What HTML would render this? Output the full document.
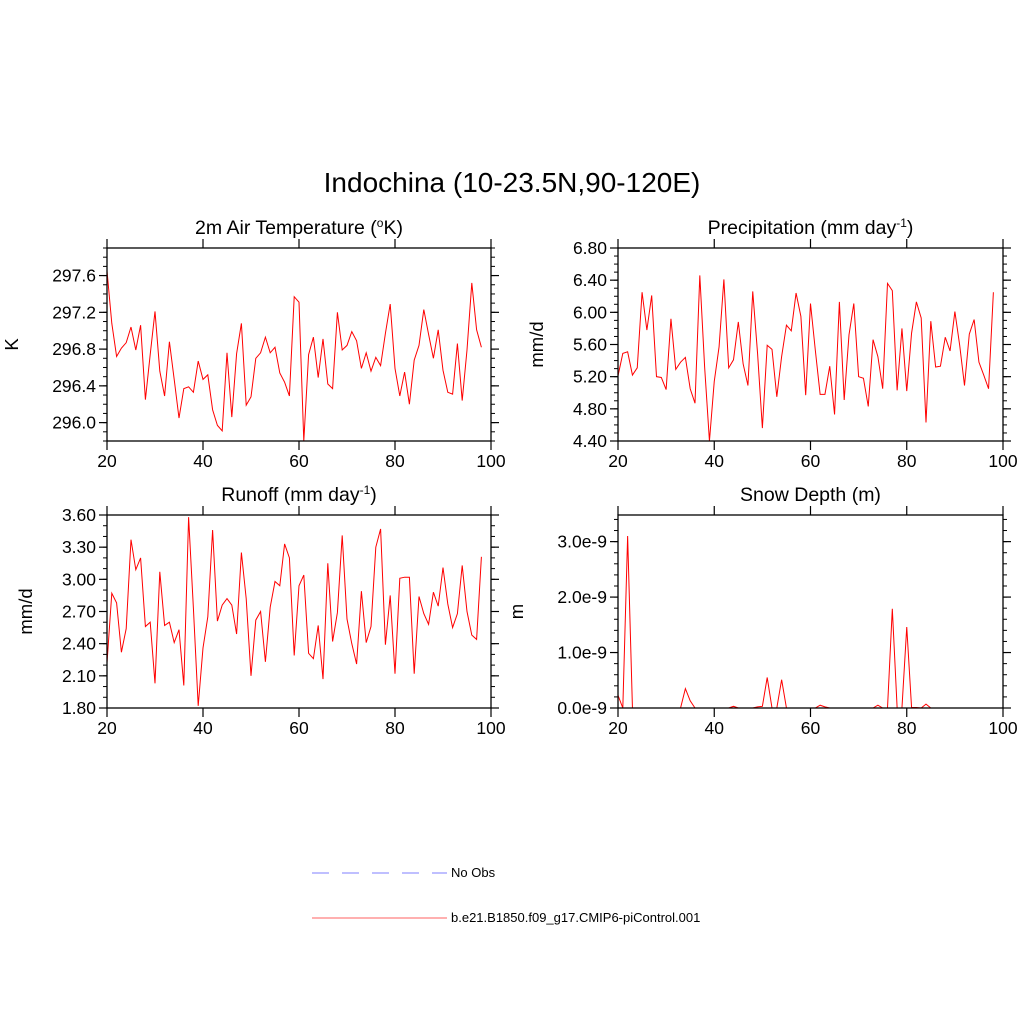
<!DOCTYPE html>
<html><head><meta charset="utf-8"><style>
body{margin:0;background:#fff}
svg{display:block;font-family:"Liberation Sans",sans-serif}
</style></head><body>
<svg id="chart" width="1024" height="1024" viewBox="0 0 1024 1024">
<rect width="1024" height="1024" fill="#fff"/>
<text x="512" y="192" font-size="28" text-anchor="middle">Indochina (10-23.5N,90-120E)</text>
<g>
<line x1="312" y1="873" x2="447" y2="873" stroke="#9999ff" stroke-width="1.2" stroke-dasharray="17,13"/>
<text x="451" y="877" font-size="13">No Obs</text>
<line x1="312" y1="918" x2="447" y2="918" stroke="#ff8080" stroke-width="1.2"/>
<text x="451" y="922" font-size="13">b.e21.B1850.f09_g17.CMIP6-piControl.001</text>
</g>
</svg>
<script>
const years = []; for (let y = 20; y <= 98; y++) years.push(y);
const tempValues = [297.65,297.08,296.72,296.81,296.87,297.04,296.79,297.06,296.25,296.74,297.21,296.56,296.29,296.88,296.47,296.05,296.37,296.39,296.33,296.67,296.47,296.52,296.14,295.97,295.91,296.76,296.06,296.75,297.08,296.19,296.28,296.70,296.76,296.93,296.76,296.82,296.54,296.44,296.29,297.37,297.31,295.80,296.74,296.93,296.49,296.91,296.42,296.37,297.20,296.79,296.84,296.99,296.89,296.59,296.76,296.56,296.71,296.62,296.97,297.29,296.59,296.29,296.55,296.20,296.68,296.84,297.23,296.96,296.70,297.01,296.57,296.33,296.31,296.86,296.24,296.79,297.52,297.01,296.82];
const precipValues = [5.21,5.49,5.51,5.22,5.31,6.25,5.78,6.21,5.20,5.19,5.04,5.92,5.29,5.38,5.44,5.05,4.87,6.46,5.32,4.40,5.14,5.57,6.41,5.31,5.41,5.88,5.36,5.09,6.26,5.49,4.56,5.59,5.54,4.95,5.45,5.84,5.77,6.24,5.95,4.97,6.11,5.53,4.98,4.98,5.33,4.73,6.13,4.91,5.72,6.11,5.20,5.18,4.83,5.66,5.45,5.05,6.36,6.27,5.03,5.80,5.02,5.74,6.13,5.93,4.63,5.89,5.32,5.33,5.69,5.52,6.01,5.59,5.09,5.73,5.91,5.38,5.22,5.05,6.25];
const runoffValues = [2.22,2.87,2.78,2.32,2.54,3.37,3.09,3.20,2.56,2.60,2.03,3.07,2.57,2.60,2.41,2.53,2.01,3.58,2.73,1.82,2.36,2.65,3.46,2.61,2.76,2.82,2.76,2.49,3.25,2.82,2.10,2.62,2.70,2.23,2.74,2.98,2.94,3.33,3.20,2.29,2.94,3.04,2.31,2.26,2.57,2.07,3.15,2.42,2.69,3.41,2.63,2.40,2.21,2.89,2.41,2.56,3.30,3.47,2.39,2.85,2.12,3.01,3.02,3.02,2.12,2.84,2.68,2.58,2.88,2.75,3.11,2.77,2.55,2.68,3.13,2.70,2.48,2.44,3.21];
const snowValues = [0.23,0,3.10,0,0,0,0,0,0,0,0,0,0,0,0.35,0.13,0,0,0,0,0,0,0,0,0.03,0,0,0,0,0.02,0.03,0.55,0,0,0.51,0,0,0,0,0,0,0,0.05,0.02,0,0,0,0,0,0,0,0,0,0,0.05,0,0,1.79,0,0,1.46,0.01,0.01,0,0.07,0,0,0,0,0,0,0,0,0,0,0,0,0,0];
const xTicks = [20,40,60,80,100];
const tempTicks = [296.0,296.4,296.8,297.2,297.6];
const precipTicks = [4.40,4.80,5.20,5.60,6.00,6.40,6.80];
const runoffTicks = [1.80,2.10,2.40,2.70,3.00,3.30,3.60];
const snowTicks = [0,1,2,3];

const NS = "http://www.w3.org/2000/svg";
const svg = document.getElementById('chart');
function mk(tag, attrs, parent) {
  const e = document.createElementNS(NS, tag);
  for (const k in attrs) e.setAttribute(k, attrs[k]);
  (parent || svg).appendChild(e);
  return e;
}
function panel(cfg) {
  const g = mk('g', {});
  
  
  const {x0, x1, y0, y1, vmin, vmax} = cfg;
  const sx = v => x0 + (v - 20) / 80 * (x1 - x0);
  const sy = v => y1 - (v - vmin) / (vmax - vmin) * (y1 - y0);
  for (let v = cfg.minorStart; v <= vmax + 1e-9; v += cfg.minorStep) {
    const y = sy(v);
    mk('line', {x1: x0 - 4, y1: y, x2: x0, y2: y, stroke: '#000', 'stroke-width': 1}, g);
    mk('line', {x1: x1, y1: y, x2: x1 + 4, y2: y, stroke: '#000', 'stroke-width': 1}, g);
  }
  cfg.yTicks.forEach((v, i) => {
    const y = sy(v);
    mk('line', {x1: x0 - 8, y1: y, x2: x0, y2: y, stroke: '#000', 'stroke-width': 1.2}, g);
    mk('line', {x1: x1, y1: y, x2: x1 + 8, y2: y, stroke: '#000', 'stroke-width': 1.2}, g);
    const t = mk('text', {x: x0 - 11, y: y + 6, 'font-size': 17.5, 'text-anchor': 'end'}, g);
    
    
    t.textContent = cfg.fmt(v);
  });
  xTicks.forEach(v => {
    const x = sx(v);
    mk('line', {x1: x, y1: y1, x2: x, y2: y1 + 9, stroke: '#000', 'stroke-width': 1.2}, g);
    mk('line', {x1: x, y1: y0 - 9, x2: x, y2: y0, stroke: '#000', 'stroke-width': 1.2}, g);
    const t = mk('text', {x: x, y: y1 + 26, 'font-size': 17.5, 'text-anchor': 'middle'}, g);
    
    
    t.textContent = v;
  });
  const pts = years.map((yr, i) => sx(yr).toFixed(2) + ',' + sy(cfg.values[i]).toFixed(2)).join(' ');
  const line = mk('polyline', {points: pts, fill: 'none', stroke: '#ff0000', 'stroke-width': 1}, g);
  
  
  const box = mk('rect', {x: x0, y: y0, width: x1 - x0, height: y1 - y0, fill: 'none', stroke: '#000', 'stroke-width': 1.3}, g);
  
  
  const tt = mk('text', {x: (x0 + x1) / 2, y: y0 - 14, 'font-size': 19.5, 'text-anchor': 'middle'}, g);
  
  
  tt.innerHTML = cfg.title;
  const yt = mk('text', {x: 0, y: 0, 'font-size': 18.5, 'text-anchor': 'middle', transform: `translate(${cfg.ytx},${(y0 + y1) / 2}) rotate(-90)`}, g);
  
  
  yt.textContent = cfg.ylabel;
}
panel({name: 'panel-air-temperature', x0: 107, x1: 491, y0: 248, y1: 441, vmin: 295.8, vmax: 297.9, values: tempValues, yTicks: tempTicks, minorStart: 295.8, minorStep: 0.1, fmt: v => v.toFixed(1), title: '2m Air Temperature (<tspan dy="-7" font-size="12">o</tspan><tspan dy="7">K)</tspan>', ylabel: 'K', ytx: 18});
panel({name: 'panel-precipitation', x0: 618, x1: 1003, y0: 248, y1: 441, vmin: 4.4, vmax: 6.8, values: precipValues, yTicks: precipTicks, minorStart: 4.4, minorStep: 0.1, fmt: v => v.toFixed(2), title: 'Precipitation (mm day<tspan dy="-7" font-size="12">-1</tspan><tspan dy="7">)</tspan>', ylabel: 'mm/d', ytx: 543});
panel({name: 'panel-runoff', x0: 107, x1: 491, y0: 515, y1: 708, vmin: 1.8, vmax: 3.6, values: runoffValues, yTicks: runoffTicks, minorStart: 1.8, minorStep: 0.1, fmt: v => v.toFixed(2), title: 'Runoff (mm day<tspan dy="-7" font-size="12">-1</tspan><tspan dy="7">)</tspan>', ylabel: 'mm/d', ytx: 32});
panel({name: 'panel-snow-depth', x0: 618, x1: 1003, y0: 515, y1: 708, vmin: 0, vmax: 3.48, values: snowValues, yTicks: snowTicks, minorStart: 0, minorStep: 0.2, fmt: v => v.toFixed(1) + 'e-9', title: 'Snow Depth (m)', ylabel: 'm', ytx: 523});
</script>
</body></html>
